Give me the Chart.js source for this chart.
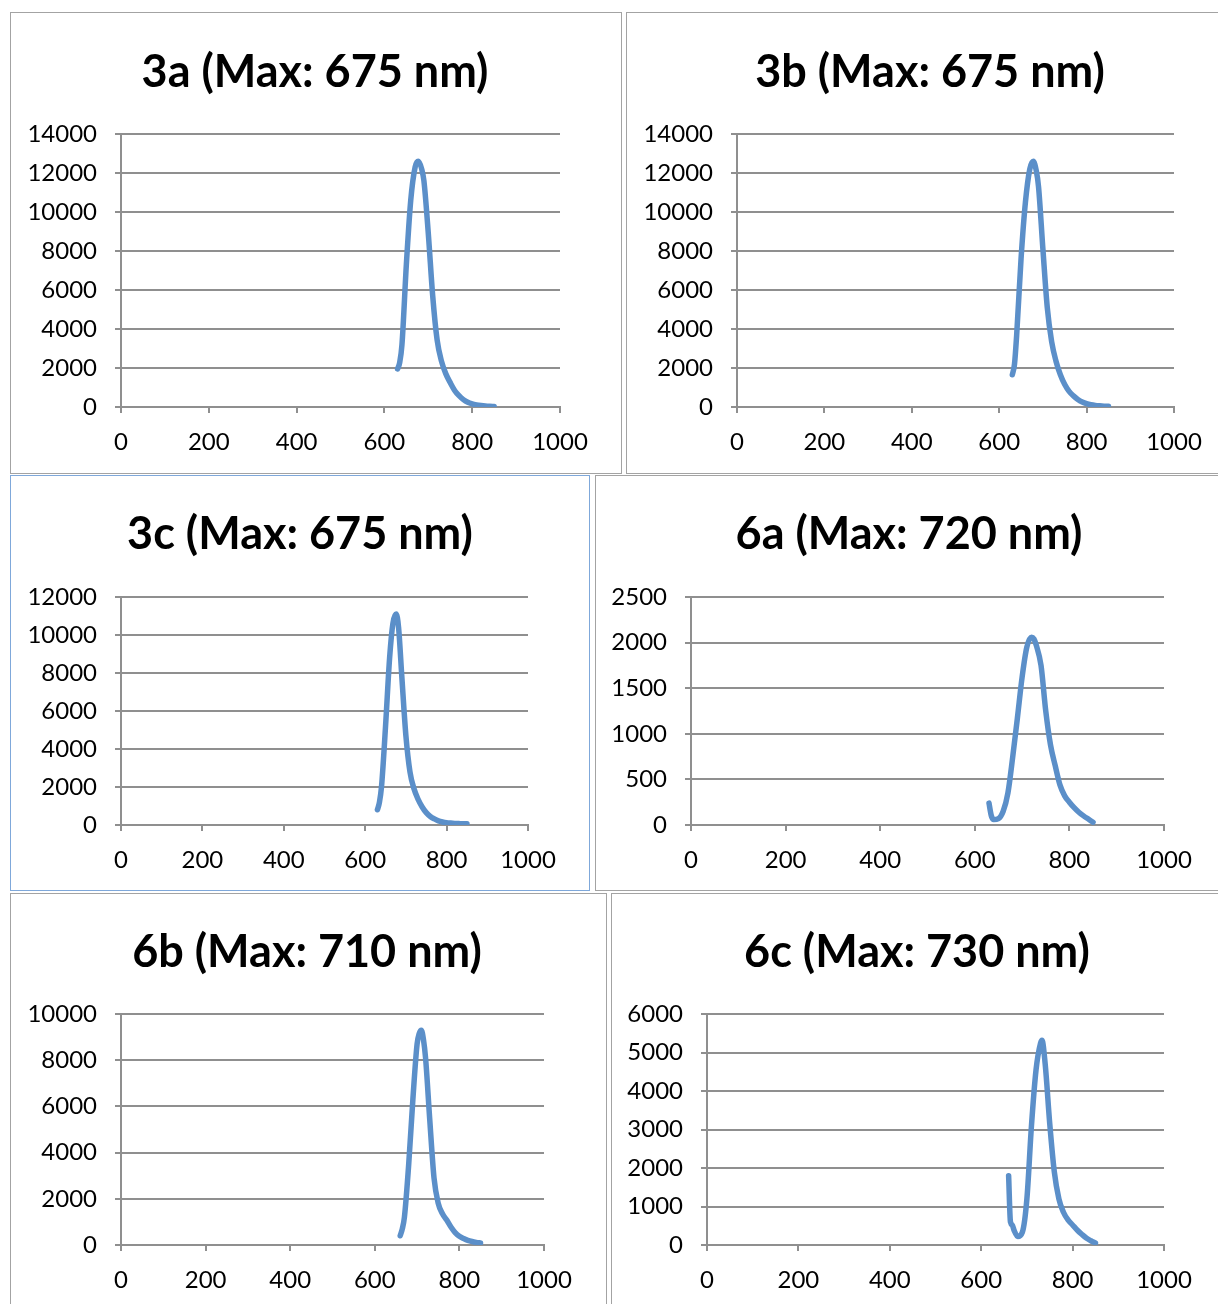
<!DOCTYPE html>
<html>
<head>
<meta charset="utf-8">
<script src="https://cdn.jsdelivr.net/npm/chart.js@4.4.0/dist/chart.umd.min.js"></script>
<style>
    html, body { margin: 0; padding: 0; background: #fff; }
    body { width: 1218px; height: 1304px; position: relative; overflow: hidden; }
    .panel { position: absolute; box-sizing: border-box; border: 1px solid #a3a3a3; background: #fff; }
    .panel canvas { display: block; }
</style>
</head>
<body>
<div id="charts"></div>
<script>
// Spectra (wavelength in nm, intensity)
const titles = ['3a (Max: 675 nm)', '3b (Max: 675 nm)', '3c (Max: 675 nm)', '6a (Max: 720 nm)', '6b (Max: 710 nm)', '6c (Max: 730 nm)'];

const wl3a = [630, 635, 640, 650, 660, 670, 677, 685, 690, 700, 710, 720, 730, 740, 750, 760, 770, 780, 790, 800, 810, 820, 830, 840, 850];
const int3a = [1950, 2300, 3200, 7300, 10600, 12300, 12600, 12200, 11600, 8900, 5700, 3450, 2350, 1700, 1250, 850, 580, 380, 240, 160, 110, 75, 50, 35, 25];

const wl3b = [630, 635, 640, 650, 660, 670, 678, 685, 690, 700, 710, 720, 730, 740, 750, 760, 770, 780, 790, 800, 810, 820, 830, 840, 850];
const int3b = [1650, 2200, 3700, 7600, 10500, 12200, 12600, 12100, 11300, 8100, 5100, 3350, 2350, 1650, 1150, 800, 570, 390, 260, 170, 115, 80, 60, 45, 35];

const wl3c = [630, 635, 640, 650, 660, 668, 676, 682, 690, 700, 710, 720, 730, 740, 750, 760, 770, 780, 790, 800, 810, 820, 830, 840, 850];
const int3c = [800, 1200, 2000, 5200, 8800, 10600, 11100, 10400, 7800, 4700, 2800, 1900, 1350, 950, 650, 450, 320, 220, 160, 120, 100, 85, 75, 65, 60];

const wl6a = [630, 635, 640, 650, 660, 670, 680, 690, 700, 710, 720, 725, 730, 740, 750, 760, 770, 780, 790, 800, 810, 820, 830, 840, 850];
const int6a = [240, 100, 60, 70, 150, 350, 740, 1170, 1620, 1950, 2060, 2040, 1970, 1750, 1250, 880, 650, 440, 320, 250, 190, 140, 100, 65, 30];

const wl6b = [660, 665, 670, 680, 690, 700, 705, 710, 715, 720, 730, 740, 750, 760, 770, 780, 790, 800, 810, 820, 830, 840, 850];
const int6b = [400, 700, 1200, 3450, 6300, 8700, 9150, 9300, 8900, 8100, 5400, 2900, 1800, 1350, 1080, 780, 540, 380, 280, 200, 150, 115, 90];

const wl6c = [660, 664, 668, 672, 680, 690, 700, 710, 720, 730, 733, 740, 750, 760, 770, 780, 790, 800, 810, 820, 830, 840, 850];
const int6c = [1800, 600, 520, 380, 220, 330, 1200, 3100, 4550, 5250, 5320, 4700, 3150, 1900, 1200, 850, 650, 520, 390, 280, 180, 110, 50];

const yMaxes = [14000, 14000, 12000, 2500, 10000, 6000];
const ySteps = [2000, 2000, 2000, 500, 2000, 1000];
const xTicks = [0, 200, 400, 600, 800, 1000];

const series = [[wl3a, int3a], [wl3b, int3b], [wl3c, int3c], [wl6a, int6a], [wl6b, int6b], [wl6c, int6c]];

// Page layout: panel box, plot area edges, title centre (all page pixels)
const panels = [
    { box: [10, 12, 612, 462], plot: [121, 134, 560, 407], title: [315, 72], border: '#a3a3a3' },
    { box: [626, 12, 600, 462], plot: [737, 134, 1174, 407], title: [930, 72], border: '#a3a3a3' },
    { box: [10, 475, 580, 416], plot: [121, 597, 528, 825], title: [300, 534], border: '#7fa8da' },
    { box: [595, 475, 630, 416], plot: [691, 597, 1164, 825], title: [909, 534], border: '#a3a3a3' },
    { box: [10, 893, 597, 420], plot: [121, 1014, 544, 1245], title: [307, 952], border: '#a3a3a3' },
    { box: [611, 893, 620, 420], plot: [707, 1014, 1164, 1245], title: [917, 952], border: '#a3a3a3' }
];

const lineColor = 'rgb(91, 143, 201)';
const gridColor = '#8f8f8f';
const tickFont = { size: 24 };

Chart.defaults.font.family = 'Lato';
Chart.defaults.color = '#000';

// Draws each chart's title at its own spot (Excel centres it over the whole box, not the plot)
const panelTitle = {
    id: 'panelTitle',
    afterDraw(chart, args, opts) {
        const ctx = chart.ctx;
        ctx.save();
        ctx.font = 'bold 45px Lato';
        ctx.fillStyle = '#000';
        ctx.textAlign = 'center';
        ctx.textBaseline = 'middle';
        ctx.fillText(opts.text, opts.x, opts.y);
        ctx.restore();
    }
};

function makeChart(i) {
    const p = panels[i];
    const [bx, by, bw, bh] = p.box;
    const cx = bx + 1, cy = by + 1;
    const W = bw - 2, H = bh - 2;
    const relLeft = p.plot[0] - cx, relTop = p.plot[1] - cy;
    const relRight = p.plot[2] - cx, relBottom = p.plot[3] - cy;

    const div = document.createElement('div');
    div.className = 'panel';
    div.style.left = bx + 'px';
    div.style.top = by + 'px';
    div.style.width = bw + 'px';
    div.style.height = bh + 'px';
    div.style.borderColor = p.border;
    const canvas = document.createElement('canvas');
    canvas.width = W;
    canvas.height = H;
    div.appendChild(canvas);
    document.getElementById('charts').appendChild(div);

    const [xs, ys] = series[i];
    const points = xs.map((x, k) => ({ x: x, y: ys[k] }));

    new Chart(canvas.getContext('2d'), {
        type: 'scatter',
        data: {
            datasets: [{
                data: points,
                showLine: true,
                borderColor: lineColor,
                borderWidth: 5.5,
                borderCapStyle: 'round',
                borderJoinStyle: 'round',
                cubicInterpolationMode: 'monotone',
                pointRadius: 0,
                pointHoverRadius: 0
            }]
        },
        plugins: [panelTitle],
        options: {
            responsive: false,
            animation: false,
            layout: { padding: { left: 0, right: W - relRight, top: relTop, bottom: 0 } },
            plugins: {
                legend: { display: false },
                tooltip: { enabled: false },
                title: { display: false },
                panelTitle: { text: titles[i], x: p.title[0] - cx, y: p.title[1] - cy }
            },
            scales: {
                x: {
                    type: 'linear',
                    min: 0,
                    max: 1000,
                    afterBuildTicks: (axis) => { axis.ticks = xTicks.map(v => ({ value: v })); },
                    afterFit: (axis) => { axis.height = H - relBottom; },
                    grid: { drawOnChartArea: false, drawTicks: true, tickLength: 6, color: gridColor, lineWidth: 2 },
                    border: { display: true, color: gridColor, width: 2 },
                    ticks: { font: tickFont, padding: 15, maxRotation: 0, callback: v => String(v) }
                },
                y: {
                    type: 'linear',
                    min: 0,
                    max: yMaxes[i],
                    afterFit: (axis) => { axis.width = relLeft; },
                    grid: { drawTicks: true, tickLength: 6, color: gridColor, lineWidth: 2 },
                    border: { display: true, color: gridColor, width: 2 },
                    ticks: { stepSize: ySteps[i], font: tickFont, padding: 18, callback: v => String(v) }
                }
            }
        }
    });
}

for (let i = 0; i < panels.length; i++) {
    makeChart(i);
}
</script>
</body>
</html>
